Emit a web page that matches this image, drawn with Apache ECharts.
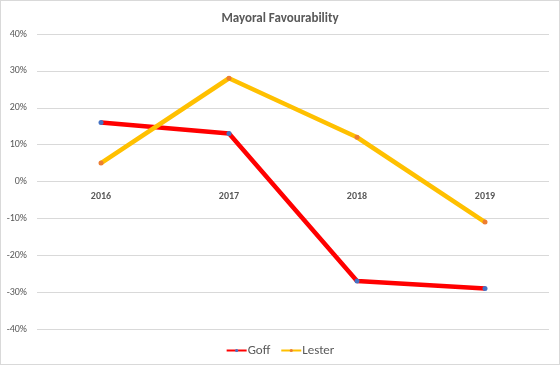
<!DOCTYPE html>
<html><head><meta charset="utf-8">
<script src="https://cdn.jsdelivr.net/npm/echarts@6/dist/echarts.min.js"></script>
<style>html,body{margin:0;padding:0;background:#fff}#c{width:558px;height:363px;border:1px solid #d9d9d9}</style>
</head><body><div id="c"></div>
<script>
const categories = ['2016','2017','2018','2019'];
const goff = [16, 13, -27, -29];
const lester = [5, 28, 12, -11];
const chart = echarts.init(document.getElementById('c'));
const font = 'Calibri, Carlito, "Open Sans", "Noto Sans", sans-serif';
chart.setOption({
  animation: false,
  title: {text: 'Mayoral Favourability', left: 'center', top: 6,
    textStyle: {fontFamily: font, fontSize: 13, fontWeight: 'bold', color: '#595959'}},
  legend: {bottom: 2, left: 'center', itemWidth: 20, itemHeight: 4, itemGap: 10,
    textStyle: {fontFamily: font, fontSize: 13, color: '#595959', padding: [0, 0, 0, -4]},
    data: ['Goff', 'Lester']},
  grid: {left: 36, right: 10, top: 33, bottom: 35},
  xAxis: {type: 'category', data: categories, boundaryGap: true,
    axisLine: {show: false, onZero: false}, axisTick: {show: false},
    axisLabel: {fontFamily: font, fontSize: 10, fontWeight: 'bold', color: '#595959', margin: -138}},
  yAxis: {type: 'value', min: -40, max: 40, interval: 10,
    axisLabel: {formatter: '{value}%', fontFamily: font, fontSize: 10, color: '#595959', margin: 10},
    splitLine: {lineStyle: {color: '#d9d9d9', width: 1}}},
  series: [
    {name: 'Goff', type: 'line', data: goff, symbol: 'circle', symbolSize: 5,
      lineStyle: {color: '#ff0000', width: 4.5}, itemStyle: {color: '#4472c4'}},
    {name: 'Lester', type: 'line', data: lester, symbol: 'circle', symbolSize: 5,
      lineStyle: {color: '#ffc000', width: 4.5}, itemStyle: {color: '#ed7d31'}}
  ]
});
</script></body></html>
